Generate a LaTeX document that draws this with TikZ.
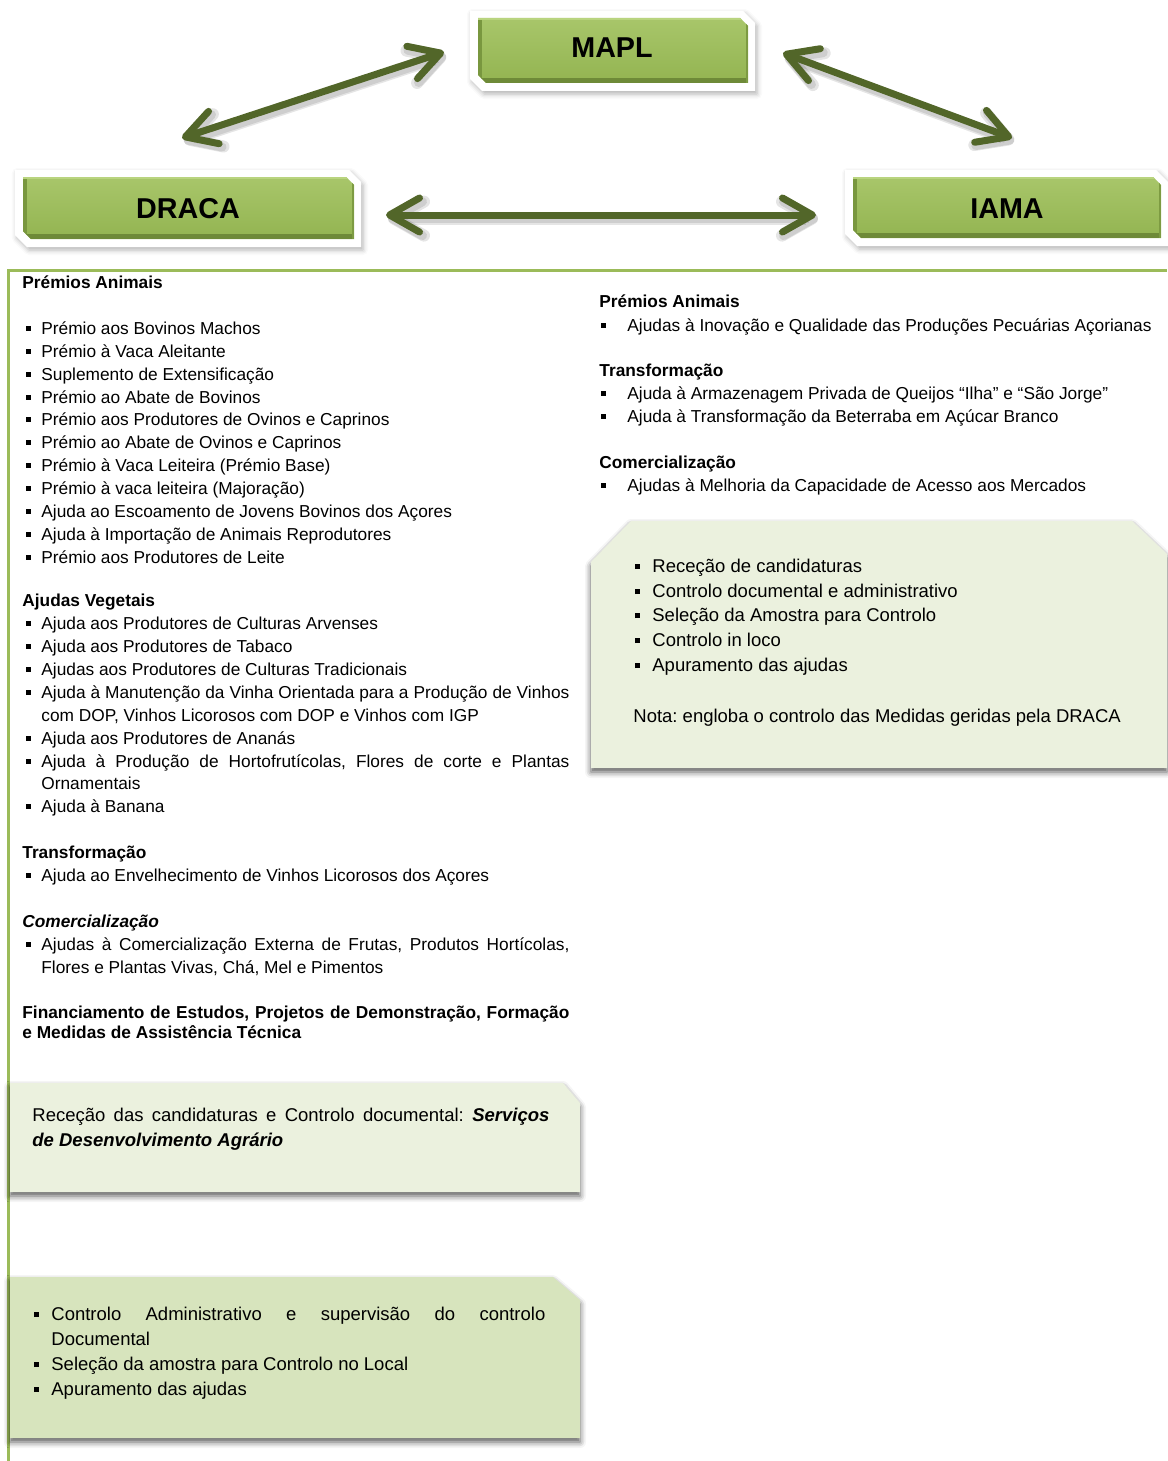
\documentclass[tikz,border=0pt]{standalone}
\usepackage{fontspec}
\setmainfont{Liberation Sans}
\usetikzlibrary{arrows.meta,shadows.blur}
\frenchspacing
\newlength\px \setlength\px{0.5pt}
\definecolor{gTop}{HTML}{A8C66A}
\definecolor{gBot}{HTML}{93B451}
\definecolor{gEdge}{HTML}{6E8A38}
\definecolor{gHi}{HTML}{B9D47F}
\definecolor{accG}{HTML}{9BBB59}
\definecolor{arrG}{HTML}{526629}
\definecolor{boxA}{HTML}{EBF1DE}
\definecolor{boxB}{HTML}{D7E4BD}
\newcommand\bl[1]{\llap{\rule[1.65pt]{2.4pt}{2.4pt}\hspace{#1}}}
\newcommand\chamf[5]{(#1,#2) -- ({#3-#5},#2) -- (#3,{#2+#5}) -- (#3,#4) -- ({#1+#5},#4) -- (#1,{#4-#5}) -- cycle}
\newcommand\hdr[8]{%
  \fill[white, blur shadow={shadow xshift=1pt,shadow yshift=-1.5pt,shadow blur radius=2.5pt,shadow opacity=30}] \chamf{#2-8}{#3-7}{#4+7}{#5+8}{12};
  \shade[top color=gTop, bottom color=gBot] \chamf{#2}{#3}{#4}{#5}{8};
  \begin{scope}
    \clip \chamf{#2}{#3}{#4}{#5}{8};
    \fill[gEdge] (#2,{#5-5}) rectangle (#4,#5);
    \fill[gEdge!70!gBot] (#2,#3) rectangle ({#2+4},#5);
    \fill[gEdge!60!gBot] ({#4-2},#3) rectangle (#4,#5);
    \fill[gHi] (#2,#3) rectangle (#4,{#3+2});
  \end{scope}
  \node[hdrtxt] (#1) at (#6,#7) {#8};
}
\tikzset{
  lt/.style={inner sep=0pt, anchor=base west, font=\fontsize{8.65pt}{11.5pt}\selectfont},
  lh/.style={inner sep=0pt, anchor=base west, font=\fontsize{8.65pt}{11.5pt}\selectfont\bfseries},
  bt/.style={inner sep=0pt, anchor=base west, font=\fontsize{9.25pt}{12.5pt}\selectfont},
  hdrtxt/.style={inner sep=0pt, font=\fontsize{14.35pt}{16pt}\selectfont\bfseries},
  arr/.style={draw=arrG, line width=3.5pt, {Straight Barb[length=15pt,width=17pt,round]}-{Straight Barb[length=15pt,width=17pt,round]}},
  arrsh/.style={arr, draw=black, opacity=.10, transform canvas={shift={(1pt,-1.8pt)}}},
  frameline/.style={draw=accG, line width=1.5pt},
  cbox/.style={blur shadow={shadow xshift=0pt,shadow yshift=-2pt,shadow blur radius=3pt,shadow opacity=65}}
}
\begin{document}
\begin{tikzpicture}[x=0.5pt,y=-0.5pt]
\useasboundingbox (0,0) rectangle (1167,1461);

% frame lines
\draw[frameline] (8,1461) -- (8,270) -- (1167,270);

% header boxes
\hdr{mapl}{478}{18}{748}{83}{612}{48}{MAPL}
\hdr{draca}{23}{177}{354}{239}{188}{208.5}{DRACA}
\hdr{iama}{853}{177}{1161}{238}{1007}{208.5}{IAMA}

% arrows
\coordinate (a1) at (182,138);
\coordinate (a2) at (444,52);
\coordinate (b1) at (783,53);
\coordinate (b2) at (1012,138);
\coordinate (c1) at (386,215);
\coordinate (c2) at (816,215);
\foreach \s/\t in {a1/a2,b1/b2,c1/c2}{
  \draw[arrsh, line width=6pt] (\s) -- (\t);
  \draw[arrsh, line width=4.5pt] (\s) -- (\t);
}
\draw[arr] (a1) -- (a2);
\draw[arr] (b1) -- (b2);
\draw[arr] (c1) -- (c2);

% green control boxes
\fill[boxA, cbox] (591,562) -- (631,521) -- (1132,521) -- (1167,554) -- (1167,768) -- (591,768) -- cycle;
\fill[boxA, cbox] (10,1083) -- (563,1083) -- (580,1103) -- (580,1192) -- (10,1192) -- cycle;
\fill[boxB, cbox] (10,1277) -- (553,1277) -- (580,1300) -- (580,1438) -- (10,1438) -- cycle;

% left column
\node[lh] (l0) at (22,288) {Prémios Animais};
\node[lt] (l1) at (41,334) {\bl{5.25pt}Prémio aos Bovinos Machos};
\node[lt] (l2) at (41,357) {\bl{5.25pt}Prémio à Vaca Aleitante};
\node[lt] (l3) at (41,380) {\bl{5.25pt}Suplemento de Extensificação};
\node[lt] (l4) at (41,403) {\bl{5.25pt}Prémio ao Abate de Bovinos};
\node[lt] (l5) at (41,425) {\bl{5.25pt}Prémio aos Produtores de Ovinos e Caprinos};
\node[lt] (l6) at (41,448) {\bl{5.25pt}Prémio ao Abate de Ovinos e Caprinos};
\node[lt] (l7) at (41,471) {\bl{5.25pt}Prémio à Vaca Leiteira (Prémio Base)};
\node[lt] (l8) at (41,494) {\bl{5.25pt}Prémio à vaca leiteira (Majoração)};
\node[lt] (l9) at (41,517) {\bl{5.25pt}Ajuda ao Escoamento de Jovens Bovinos dos Açores};
\node[lt] (l10) at (41,540) {\bl{5.25pt}Ajuda à Importação de Animais Reprodutores};
\node[lt] (l11) at (41,563) {\bl{5.25pt}Prémio aos Produtores de Leite};

\node[lh] (v0) at (22,606) {Ajudas Vegetais};
\node[lt] (v1) at (41,629) {\bl{5.25pt}Ajuda aos Produtores de Culturas Arvenses};
\node[lt] (v2) at (41,652) {\bl{5.25pt}Ajuda aos Produtores de Tabaco};
\node[lt] (v3) at (41,675) {\bl{5.25pt}Ajudas aos Produtores de Culturas Tradicionais};
\node[lt] (v4) at (41,698) {\bl{5.25pt}\makebox[528\px][s]{Ajuda à Manutenção da Vinha Orientada para a Produção de Vinhos}};
\node[lt] (v4b) at (41,721) {com DOP, Vinhos Licorosos com DOP e Vinhos com IGP};
\node[lt] (v5) at (41,744) {\bl{5.25pt}Ajuda aos Produtores de Ananás};
\node[lt] (v6) at (41,767) {\bl{5.25pt}\makebox[528\px][s]{Ajuda à Produção de Hortofrutícolas, Flores de corte e Plantas}};
\node[lt] (v6b) at (41,789) {Ornamentais};
\node[lt] (v7) at (41,812) {\bl{5.25pt}Ajuda à Banana};

\node[lh] (t0) at (22,858) {Transformação};
\node[lt] (t1) at (41,881) {\bl{5.25pt}Ajuda ao Envelhecimento de Vinhos Licorosos dos Açores};

\node[lh] (c0) at (22,927) {\itshape Comercialização};
\node[lt] (c1t) at (41,950) {\bl{5.25pt}\makebox[528\px][s]{Ajudas à Comercialização Externa de Frutas, Produtos Hortícolas,}};
\node[lt] (c1b) at (41,973) {Flores e Plantas Vivas, Chá, Mel e Pimentos};

\node[lh] (f0) at (22,1018) {\makebox[547\px][s]{Financiamento de Estudos, Projetos de Demonstração, Formação}};
\node[lh] (f1) at (22,1038) {e Medidas de Assistência Técnica};

% right column
\node[lh] (r0) at (599,307) {Prémios Animais};
\node[lt] (r1) at (627,331) {\bl{10.75pt}Ajudas à Inovação e Qualidade das Produções Pecuárias Açorianas};
\node[lh] (r2) at (599,376) {Transformação};
\node[lt] (r3) at (627,399) {\bl{10.75pt}Ajuda à Armazenagem Privada de Queijos “Ilha” e “São Jorge”};
\node[lt] (r4) at (627,422) {\bl{10.75pt}Ajuda à Transformação da Beterraba em Açúcar Branco};
\node[lh] (r5) at (599,468) {Comercialização};
\node[lt] (r6) at (627,491) {\bl{10.75pt}Ajudas à Melhoria da Capacidade de Acesso aos Mercados};

% right control box text
\node[bt] (k1) at (652,572.5) {\bl{6.25pt}Receção de candidaturas};
\node[bt] (k2) at (652,597.5) {\bl{6.25pt}Controlo documental e administrativo};
\node[bt] (k3) at (652,621.5) {\bl{6.25pt}Seleção da Amostra para Controlo};
\node[bt] (k4) at (652,646.5) {\bl{6.25pt}Controlo in loco};
\node[bt] (k5) at (652,671.5) {\bl{6.25pt}Apuramento das ajudas};
\node[bt] (k6) at (633,722.5) {Nota: engloba o controlo das Medidas geridas pela DRACA};

% left control box 1
\node[bt] (s1) at (32,1121.5) {\makebox[517\px][s]{Receção das candidaturas e Controlo documental: \textbf{\textit{Serviços}}}};
\node[bt] (s2) at (32,1146.5) {\textbf{\textit{de Desenvolvimento Agrário}}};

% left control box 2
\node[bt] (d1) at (51,1320.5) {\bl{6.25pt}\makebox[494\px][s]{Controlo Administrativo e supervisão do controlo}};
\node[bt] (d2) at (51,1345.5) {Documental};
\node[bt] (d3) at (51,1370.5) {\bl{6.25pt}Seleção da amostra para Controlo no Local};
\node[bt] (d4) at (51,1395.5) {\bl{6.25pt}Apuramento das ajudas};
\end{tikzpicture}
\end{document}
